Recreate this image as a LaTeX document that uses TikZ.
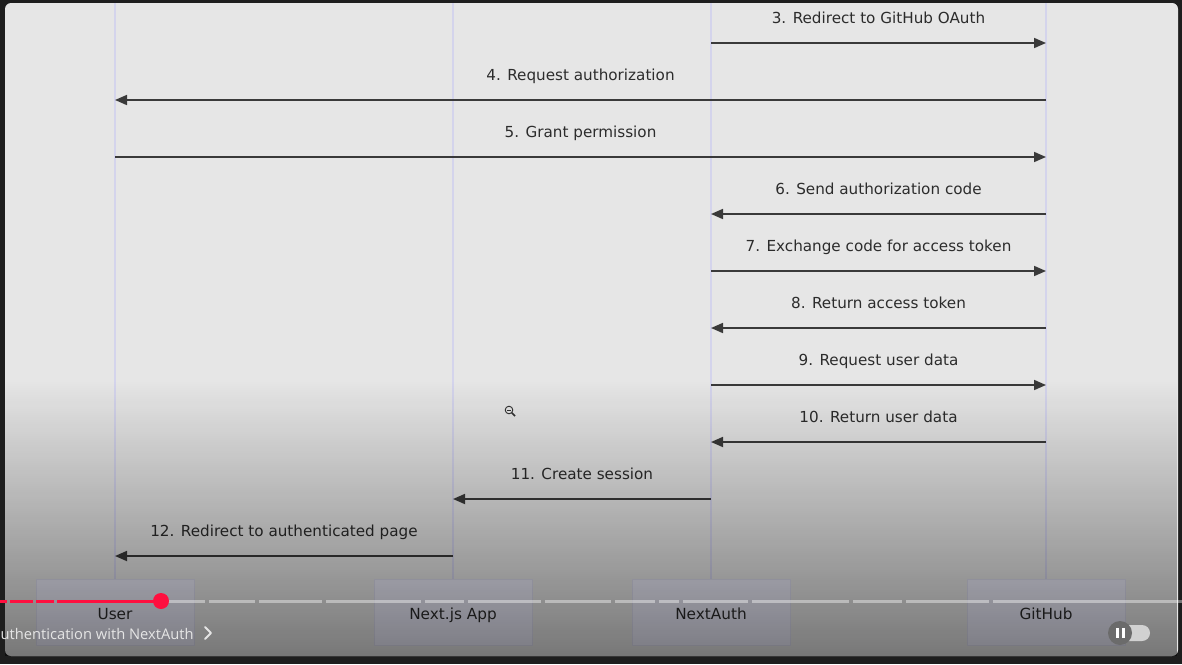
\documentclass[tikz,border=0pt]{standalone}
\usepackage{fontspec}
\setmainfont{DejaVu Sans}
\newfontfamily\playerfont{Open Sans}
\usetikzlibrary{arrows.meta, positioning, fadings}
\definecolor{frame}{HTML}{1E1E1E}
\definecolor{screen}{HTML}{E6E6E6}
\definecolor{lifeline}{HTML}{D4D4EC}
\definecolor{actorfill}{HTML}{ECECFA}
\definecolor{actorline}{HTML}{DCDCEE}
\definecolor{msgline}{HTML}{3A3A3A}
\definecolor{msgtext}{HTML}{2C2C2C}
\definecolor{ytred}{HTML}{FF0F3F}
\tikzfading[name=darken, top color=transparent!100, middle color=transparent!86, bottom color=transparent!0]
\tikzset{%
	actor/.style={
		rectangle,
		draw=actorline,
		fill=actorfill,
		minimum width=158pt,
		minimum height=66pt,
		text height=14pt,
		text depth=0pt,
		text=msgtext,
		font=\fontsize{15.3}{18}\selectfont
	},
	life/.style={draw=lifeline, line width=1.5pt},
	msg/.style={draw=msgline, line width=1.7pt, -{Triangle[length=12pt, width=10pt]}},
	msglabel/.style={anchor=base, yshift=19.5pt, text=msgtext, font=\fontsize{15.2}{18}\selectfont},
}

\begin{document}
\begin{tikzpicture}[x=1pt, y=-1pt]
	\useasboundingbox (0,0) rectangle (1182,664);
	% Draw the screen
	\fill[frame] (0,0) rectangle (1182,664);
	\fill[screen, rounded corners=6pt] (5,3) rectangle (1178,656);

	% Draw the participants
	\node[actor] (user) at (115,612) {User};
	\node[actor] (nextjs) at (453,612) {Next.js App};
	\node[actor] (nextauth) at (711,612) {NextAuth};
	\node[actor] (github) at (1046,612) {GitHub};

	% Draw the lifelines
	\foreach \p in {user, nextjs, nextauth, github}
		\draw[life] (\p.north) -- (\p.north |- 0,3);

	% Draw the messages
	\foreach \a/\b/\y/\t in {
		nextauth/github/43/3. Redirect to GitHub OAuth,
		github/user/100/4. Request authorization,
		user/github/157/5. Grant permission,
		github/nextauth/214/6. Send authorization code,
		nextauth/github/271/7. Exchange code for access token,
		github/nextauth/328/8. Return access token,
		nextauth/github/385/9. Request user data,
		github/nextauth/442/10. Return user data,
		nextauth/nextjs/499/11. Create session,
		nextjs/user/556/12. Redirect to authenticated page}
		\draw[msg] (\a |- 0,\y) -- node[msglabel] {\t} (\b |- 0,\y);

	% Draw the cursor
	\draw[black!80, line width=0.9pt] (509,410) circle[radius=3.8];
	\draw[black!80, line width=0.9pt] (507,410) -- (511,410);
	\draw[black!80, line width=1.6pt] (511.8,412.8) -- (515,416);

	% Draw the player overlay
	\fill[black, path fading=darken, fill opacity=0.48] (5,380) rectangle (1178,656);

	% Draw the progress bar
	\foreach \s/\e in {161/205, 209/255, 259/322, 326/421, 425/464, 468/541, 545/611, 615/655, 659/679, 683/748, 752/849, 853/902, 906/989, 993/1182}
		\fill[white, fill opacity=0.4] (\s,599.5) rectangle (\e,602.5);
	\foreach \s/\e in {0/6.5, 9.5/32.5, 35.5/53.5, 56.5/161}
		\fill[ytred] (\s,599.5) rectangle (\e,602.5);
	\fill[ytred] (161,601) circle[radius=8];

	% Draw the title and the toggle
	\node[anchor=base west, text=white!90!black, font=\playerfont\fontsize{14.7}{18}\selectfont, inner sep=0pt] (title) at (0.5,639) {uthentication with NextAuth};
	\draw[white!90!black, line width=1.8pt, line cap=round, line join=round] (205,627) -- (211,633) -- (205,639);
	\fill[white!82!black, rounded corners=8pt] (1112,625) rectangle (1150,641);
	\fill[black!58] (1120,633) circle[radius=12];
	\fill[white] (1115.5,628) rectangle (1118.5,638);
	\fill[white] (1121.5,628) rectangle (1124.5,638);
\end{tikzpicture}
\end{document}
